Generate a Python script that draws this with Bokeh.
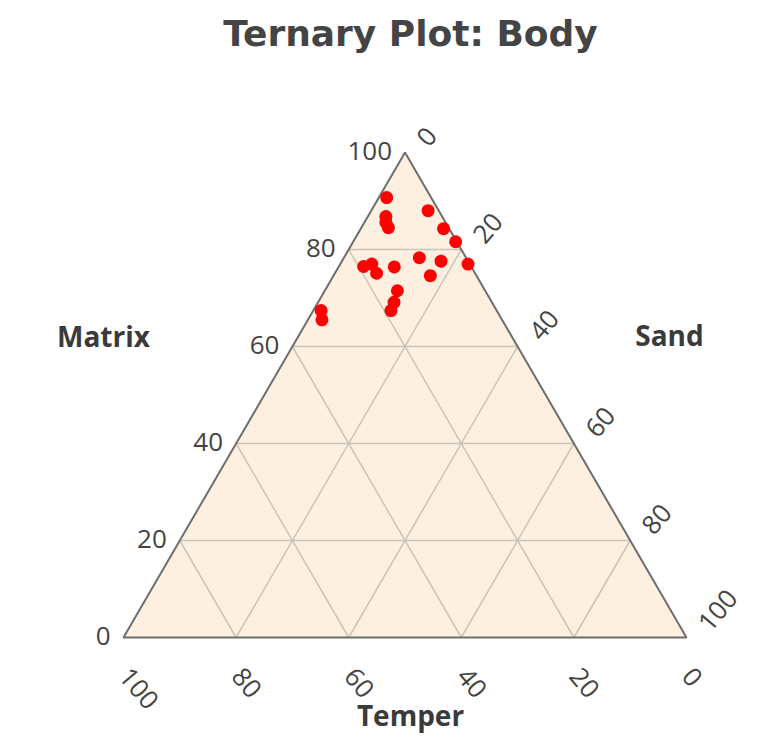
from bokeh.plotting import figure
from bokeh.models import Range1d, Label, ColumnDataSource
from bokeh.core.properties import value
from bokeh.embed import file_html
from bokeh.resources import INLINE
import math

# ---- data (percent) ----
matrix = [90.7, 88.0, 86.8, 85.6, 84.5, 84.3, 81.6, 78.3, 77.6, 77.0,
          76.5, 77.0, 75.1, 76.4, 74.6, 71.5, 69.1, 67.4, 67.4, 65.5]
sand   = [1.4, 10.1, 3.2, 3.8, 4.8, 14.7, 18.2, 13.4, 17.6, 22.7,
          4.4, 5.6, 7.4, 9.9, 17.2, 12.9, 13.5, 13.8, 1.4, 2.5]
temper = [round(100 - m - s, 1) for m, s in zip(matrix, sand)]

tick_values = [0, 20, 40, 60, 80, 100]
tick_labels = ["0", "20", "40", "60", "80", "100"]
grid_values = [20, 40, 60, 80]

title_text = "Ternary Plot: Body"
a_title, b_title, c_title = "Matrix", "Temper", "Sand"

# ---- ternary -> cartesian (x = S + M/2, y = M) ----
def cart(m, s):
    return s + m / 2.0, m

W, H = 750, 736
px_x, px_y = 5.63, 4.85          # px per percent unit
x0 = (0 - 123) / px_x
y1 = (637 - 0) / px_y

p = figure(width=W, height=H, output_backend="svg", toolbar_location=None,
           x_range=Range1d(x0, x0 + W / px_x), y_range=Range1d(y1 - H / px_y, y1),
           min_border=0, outline_line_color=None, background_fill_color="white",
           border_fill_color="white")
p.axis.visible = False
p.grid.visible = False

# triangle fill
corners = [cart(100, 0), cart(0, 100), cart(0, 0)]
p.patch([c[0] for c in corners], [c[1] for c in corners], fill_color="#fdf0e1",
        line_color=None)

# grid lines
gx, gy = [], []
for k in grid_values:
    a = cart(k, 0); b = cart(k, 100 - k)            # matrix const
    gx.append([a[0], b[0]]); gy.append([a[1], b[1]])
    a = cart(100 - k, k); b = cart(0, k)            # sand const
    gx.append([a[0], b[0]]); gy.append([a[1], b[1]])
    a = cart(100 - k, 0); b = cart(0, 100 - k)      # temper const
    gx.append([a[0], b[0]]); gy.append([a[1], b[1]])
p.multi_line(gx, gy, line_color="#cbc3b8", line_width=1.5)

# edges
p.patch([c[0] for c in corners], [c[1] for c in corners], fill_color=None,
        line_color="#6e6e6e", line_width=2)

# points
pts = ColumnDataSource(dict(x=[cart(m, s)[0] for m, s in zip(matrix, sand)],
                            y=[cart(m, s)[1] for m, s in zip(matrix, sand)]))
p.scatter("x", "y", source=pts, size=13, fill_color="#ff0000", line_color=None)

font = value("Open Sans")
tick_color = "#444444"
fs = "26px"

# left (matrix) tick labels
L = ColumnDataSource(dict(x=[cart(v, 0)[0] for v in tick_values],
                          y=[cart(v, 0)[1] for v in tick_values], t=tick_labels))
p.text("x", "y", text="t", source=L, text_align="right", text_baseline="middle",
       x_offset=-13, y_offset=-2, text_font=font, text_font_size=fs,
       text_color=tick_color)

# bottom (temper) tick labels
B = ColumnDataSource(dict(x=[cart(0, 100 - v)[0] for v in tick_values],
                          y=[cart(0, 100 - v)[1] for v in tick_values], t=tick_labels))
p.text("x", "y", text="t", source=B, text_align="left", text_baseline="middle",
       angle=-50 * math.pi / 180, x_offset=1, y_offset=34, text_font=font,
       text_font_size=fs, text_color=tick_color)

# right (sand) tick labels
R = ColumnDataSource(dict(x=[cart(100 - v, v)[0] for v in tick_values],
                          y=[cart(100 - v, v)[1] for v in tick_values], t=tick_labels))
p.text("x", "y", text="t", source=R, text_align="left", text_baseline="middle",
       angle=50 * math.pi / 180, x_offset=17, y_offset=-10, text_font=font,
       text_font_size=fs, text_color=tick_color)

# titles (screen units; y from bottom)
def scr(px, py):
    return px, H - py

tx, ty = scr(410, 33)
p.add_layout(Label(x=tx, y=ty, x_units="screen", y_units="screen", text=title_text,
                   text_align="center", text_baseline="middle",
                   text_font="DejaVu Sans", text_font_style="bold",
                   text_font_size="36px", text_color="#444444"))
for txt, (ax_, ay_) in [(a_title, (103, 335)), (c_title, (669, 334)), (b_title, (410, 714))]:
    lx, ly = scr(ax_, ay_)
    p.add_layout(Label(x=lx, y=ly, x_units="screen", y_units="screen", text=txt,
                       text_align="center", text_baseline="middle",
                       text_font="Open Sans", text_font_style="bold",
                       text_font_size="28px", text_color="#3a3a3a"))

open("out.html", "w").write(file_html(p, INLINE))
